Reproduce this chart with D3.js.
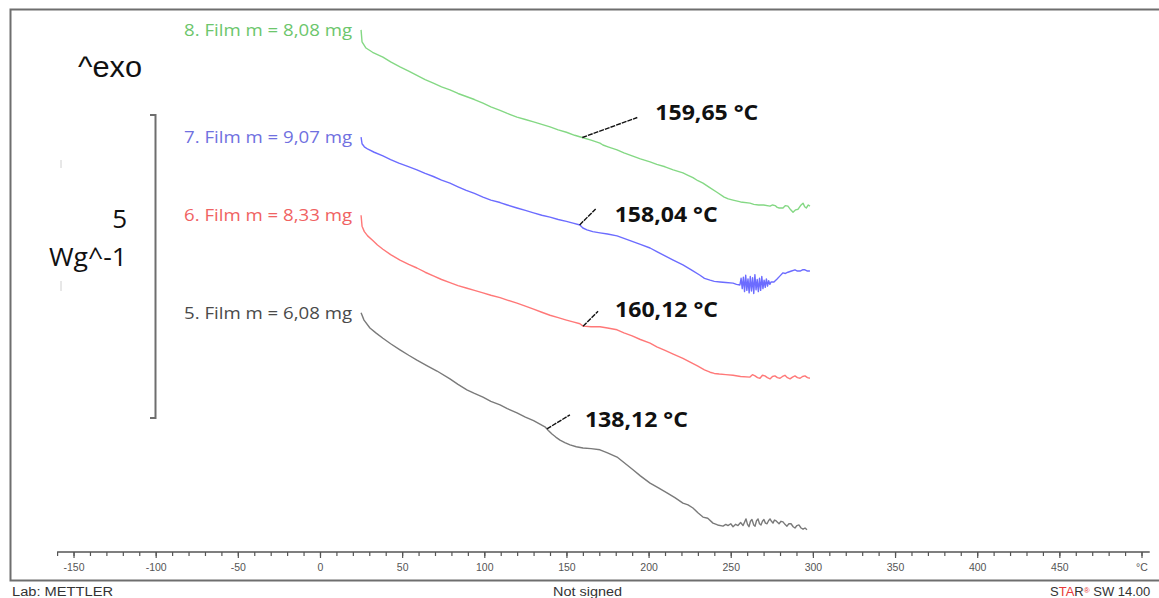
<!DOCTYPE html>
<html>
<head>
<meta charset="utf-8">
<script src="https://cdn.jsdelivr.net/npm/d3@7"></script>
<style>
  html, body { margin: 0; padding: 0; background: #fff; }
  svg { display: block; }
</style>
</head>
<body>
<svg id="chart" width="1159" height="598"></svg>
<script>
// DSC heating curves of four film samples: [temperature °C, heat flow W/g]
const film5 = [[25.0,3.93],[26.8,3.81],[30.4,3.68],[34.0,3.60],[38.3,3.51],[43.0,3.42],[48.7,3.32],[54.0,3.23],
  [59.0,3.15],[65.0,3.06],[71.2,2.97],[79.1,2.84],[84.0,2.75],[89.4,2.66],[94.0,2.60],[99.2,2.54],[104.0,2.47],
  [109.6,2.41],[114.0,2.35],[119.9,2.28],[125.0,2.21],[130.0,2.15],[136.9,2.05],[139.0,1.99],[141.2,1.93],
  [143.5,1.88],[146.1,1.83],[149.0,1.79],[152.2,1.75],[156.0,1.72],[160.1,1.70],[165.0,1.69],[170.4,1.67],
  [175.0,1.62],[180.8,1.55],[185.0,1.46],[190.5,1.34],[195.0,1.24],[200.9,1.12],[206.0,1.04],[211.2,0.96],
  [216.0,0.88],[220.9,0.79],[224.0,0.76],[227.0,0.71],[230.0,0.63],[233.1,0.56],[236.0,0.54],[239.2,0.46],
  [242.0,0.43],[245.3,0.41],
  [247.0,0.44],[248.3,0.42],[250.0,0.45],[251.4,0.40],[253.0,0.44],[254.4,0.42],[256.0,0.47],[257.5,0.42],
  [259.3,0.53],[260.2,0.44],[261.1,0.40],[262.0,0.49],[262.9,0.52],[264.0,0.43],[264.8,0.41],[265.7,0.50],
  [266.6,0.53],[267.5,0.45],[268.4,0.43],[269.3,0.49],[270.2,0.52],[271.1,0.46],[272.1,0.45],[273.0,0.50],
  [273.9,0.53],[274.8,0.49],[275.7,0.46],[276.6,0.51],[277.5,0.50],[279.4,0.45],[280.6,0.49],[281.8,0.48],
  [283.0,0.44],[284.2,0.41],[285.4,0.45],[286.7,0.45],[288.0,0.40],[289.1,0.38],[290.3,0.42],[291.5,0.43],
  [292.8,0.38],[294.0,0.36],[295.2,0.38],[296.4,0.35]];

const film6 = [[25.0,5.54],[25.6,5.36],[27.0,5.27],[29.0,5.20],[32.3,5.12],[35.0,5.05],[38.3,4.98],[43.0,4.89],
  [48.7,4.80],[54.0,4.73],[59.0,4.67],[64.0,4.60],[69.0,4.54],[74.0,4.48],[79.1,4.43],[84.0,4.38],[89.0,4.34],
  [94.0,4.30],[99.2,4.26],[104.0,4.22],[109.6,4.18],[114.0,4.14],[119.9,4.09],[125.0,4.04],[130.0,3.99],
  [135.0,3.94],[140.0,3.89],[145.0,3.85],[150.0,3.81],[154.0,3.78],[158.2,3.75],[160.1,3.71],[165.0,3.70],
  [170.4,3.70],[175.0,3.68],[180.8,3.65],[185.0,3.60],[190.0,3.55],[195.0,3.49],[200.9,3.43],[205.0,3.37],
  [210.0,3.31],[215.0,3.25],[220.9,3.18],[225.0,3.12],[230.0,3.05],[234.0,2.99],[237.4,2.95],[240.0,2.93],
  [243.0,2.92],[247.0,2.91],[251.4,2.90],[256.0,2.88],[261.7,2.87],[263.2,2.91],[264.8,2.89],[266.3,2.86],
  [267.8,2.85],[269.3,2.90],[270.8,2.89],[272.3,2.86],[273.9,2.84],[275.4,2.88],[276.9,2.89],[278.4,2.86],
  [280.0,2.85],[281.5,2.88],[283.0,2.90],[284.5,2.86],[286.1,2.84],[287.6,2.87],[289.1,2.89],[290.6,2.86],
  [292.2,2.85],[293.7,2.88],[295.2,2.89],[296.7,2.86],[298.2,2.85]];

const film7 = [[25.0,6.83],[25.6,6.72],[27.0,6.67],[29.2,6.63],[33.0,6.58],[38.3,6.52],[43.0,6.46],[48.0,6.40],
  [53.0,6.35],[59.0,6.29],[64.0,6.23],[69.0,6.18],[74.0,6.12],[79.1,6.07],[84.0,6.01],[89.0,5.95],[94.0,5.90],
  [99.2,5.84],[104.0,5.79],[109.6,5.75],[114.0,5.71],[119.9,5.66],[125.0,5.62],[130.0,5.58],[135.0,5.54],
  [140.0,5.51],[145.0,5.47],[150.0,5.44],[154.0,5.41],[158.2,5.38],[160.0,5.33],[162.5,5.30],[166.0,5.27],
  [170.4,5.25],[175.0,5.23],[180.8,5.20],[185.0,5.16],[190.0,5.11],[195.0,5.06],[200.9,5.00],[205.0,4.94],
  [210.0,4.87],[215.0,4.80],[220.9,4.72],[226.0,4.64],[231.3,4.55],[234.0,4.50],[237.4,4.47],[240.0,4.45],
  [243.5,4.44],[247.0,4.43],[251.4,4.42],[253.5,4.40],[255.6,4.39],
  [256.3,4.50],[257.0,4.33],[257.7,4.52],[258.4,4.28],[259.1,4.55],[259.8,4.30],[260.5,4.49],[261.2,4.26],
  [261.9,4.53],[262.6,4.29],[263.3,4.51],[264.0,4.25],[264.7,4.56],[265.4,4.31],[266.1,4.48],[266.8,4.28],
  [267.5,4.50],[268.2,4.30],[268.9,4.53],[269.6,4.33],[270.3,4.47],[271.0,4.35],[271.7,4.49],[272.4,4.37],
  [273.1,4.46],[273.8,4.40],[274.5,4.44],[276.3,4.44],[278.2,4.49],[280.0,4.54],[281.8,4.59],[283.3,4.58],
  [284.8,4.60],[287.0,4.62],[289.1,4.64],[290.6,4.62],[292.2,4.62],[293.7,4.64],[295.2,4.64],[296.7,4.62],[298.2,4.62]];

const film8 = [[25.0,8.60],[25.6,8.40],[28.0,8.30],[32.0,8.23],[38.3,8.15],[43.0,8.07],[48.7,7.99],[54.0,7.92],
  [59.0,7.85],[64.0,7.78],[69.0,7.72],[74.0,7.66],[79.1,7.61],[84.0,7.55],[89.0,7.50],[94.0,7.45],[99.2,7.39],
  [104.0,7.33],[109.6,7.27],[114.0,7.22],[119.9,7.16],[125.0,7.12],[130.0,7.08],[135.0,7.04],[140.0,7.00],
  [145.0,6.95],[150.0,6.91],[155.0,6.86],[160.1,6.82],[165.0,6.78],[170.4,6.73],[172.2,6.70],[175.3,6.67],
  [180.8,6.62],[185.0,6.57],[190.0,6.52],[195.0,6.47],[200.9,6.42],[205.0,6.38],[210.0,6.34],[215.0,6.29],
  [220.9,6.24],[224.0,6.20],[227.0,6.16],[230.0,6.11],[233.1,6.07],[237.0,6.00],[241.6,5.92],[246.0,5.84],
  [248.5,5.81],[251.4,5.79],[256.0,5.76],[261.7,5.74],[264.0,5.72],[267.0,5.71],[270.0,5.71],[273.9,5.69],
  [275.5,5.71],[277.0,5.70],[278.3,5.67],[279.5,5.66],[281.8,5.66],[283.3,5.70],[284.8,5.69],[286.5,5.63],
  [287.9,5.59],[289.5,5.63],[291.0,5.64],[292.5,5.70],[294.0,5.74],[295.0,5.68],[296.0,5.66],[297.2,5.71],[298.2,5.69]];

const seriesLabels = ["5. Film m = 6,08 mg", "6. Film m = 8,33 mg", "7. Film m = 9,07 mg", "8. Film m = 8,08 mg"];
const seriesData = [film5, film6, film7, film8];
const lineColors = ["#7a7a7a", "#ff7878", "#6c6cff", "#84d884"];
const labelColors = ["#4a4a4a", "#f06262", "#7070e0", "#6cc66c"];

// Glass transition onsets
const onsetTemps = [138.12, 160.12, 158.04, 159.65];
const onsetLabels = ["138,12 °C", "160,12 °C", "158,04 °C", "159,65 °C"];

// Temperature axis
const majorTicks = [-150, -100, -50, 0, 50, 100, 150, 200, 250, 300, 350, 400, 450, 500];
const majorTickLabels = ["-150", "-100", "-50", "0", "50", "100", "150", "200", "250", "300", "350", "400", "450", "°C"];
const minorTicks = d3.range(-160, 501, 10);

// Scale bar for heat flow
const scaleBarValue = 5;
const scaleBarLabels = ["5", "Wg^-1"];

const svg = d3.select("#chart");

const x = d3.scaleLinear().domain([-160, 500]).range([57.1, 1141.5]);
const y = d3.scaleLinear().domain([0, 9]).range([551, 5.6]);

// outer frame
svg.append("path")
  .attr("d", "M1159,9.5 H10.5 V580.5 H1159")
  .attr("fill", "none").attr("stroke", "#6e6e6e").attr("stroke-width", 2);

// minor ticks
const minorAxis = d3.axisBottom(x).tickValues(minorTicks).tickSize(4).tickFormat("");
const gMinor = svg.append("g").attr("transform", "translate(0,552)").call(minorAxis);
gMinor.select(".domain").remove();
gMinor.selectAll(".tick line").attr("stroke", "#555").attr("stroke-width", 1.2);

// major ticks + labels
const majorAxis = d3.axisBottom(x).tickValues(majorTicks).tickSize(6).tickPadding(6)
  .tickFormat((d, i) => majorTickLabels[i]);
const gMajor = svg.append("g").attr("transform", "translate(0,552)").call(majorAxis);
gMajor.select(".domain").remove();
gMajor.selectAll(".tick line").attr("stroke", "#555").attr("stroke-width", 1.2);
gMajor.selectAll(".tick text")
  .attr("font-family", "Liberation Sans, Arial, sans-serif")
  .attr("font-size", 10.5).attr("fill", "#555");

svg.append("line")
  .attr("x1", x(-160)).attr("x2", x(505)).attr("y1", 552).attr("y2", 552)
  .attr("stroke", "#555").attr("stroke-width", 1.6);

// curves
const line = d3.line().x(d => x(d[0])).y(d => y(d[1]));
seriesData.forEach((data, i) => {
  svg.append("path").datum(data)
    .attr("d", line)
    .attr("fill", "none")
    .attr("stroke", lineColors[i])
    .attr("stroke-width", 1.4)
    .attr("stroke-linejoin", "round");
});

// series labels beside the curve starts
seriesData.forEach((data, i) => {
  svg.append("text")
    .attr("x", 352)
    .attr("y", y(data[0][1]) + 6)
    .attr("text-anchor", "end")
    .attr("font-family", "Open Sans, sans-serif")
    .attr("font-size", 16)
    .attr("textLength", 168)
    .attr("lengthAdjust", "spacingAndGlyphs")
    .attr("fill", labelColors[i])
    .text(seriesLabels[i]);
});

// onset markers
function valueAt(data, t) {
  for (let k = 1; k < data.length; k++) {
    if (data[k][0] >= t) {
      const a = data[k - 1], b = data[k];
      return a[1] + (b[1] - a[1]) * (t - a[0]) / (b[0] - a[0]);
    }
  }
  return data[data.length - 1][1];
}
const leaderOffsets = [[23, -14], [15, -15], [16, -16], [55, -20]];
const labelOffsets = [[38, -2], [32, -9], [35, -3], [73, -17]];
onsetTemps.forEach((t, i) => {
  const px = x(t), py = y(valueAt(seriesData[i], t));
  svg.append("line")
    .attr("x1", px).attr("y1", py)
    .attr("x2", px + leaderOffsets[i][0]).attr("y2", py + leaderOffsets[i][1])
    .attr("stroke", "#111").attr("stroke-width", 1.4)
    .attr("stroke-dasharray", "5,1");
  svg.append("text")
    .attr("x", px + labelOffsets[i][0]).attr("y", py + labelOffsets[i][1])
    .attr("font-family", "Open Sans, sans-serif")
    .attr("font-weight", "bold")
    .attr("font-size", 21)
    .attr("textLength", 103)
    .attr("lengthAdjust", "spacingAndGlyphs")
    .attr("fill", "#111")
    .text(onsetLabels[i]);
});

// exo direction
svg.append("text")
  .attr("x", 78).attr("y", 77)
  .attr("font-family", "Liberation Sans, Arial, sans-serif")
  .attr("font-size", 29).attr("fill", "#111")
  .attr("textLength", 64).attr("lengthAdjust", "spacingAndGlyphs")
  .text("^exo");

// heat flow scale bar
const barTop = 115, barBottom = barTop + (y(0) - y(scaleBarValue));
svg.append("path")
  .attr("d", `M150,${barTop} H155.5 V${barBottom} H150`)
  .attr("fill", "none").attr("stroke", "#6e6e6e").attr("stroke-width", 2);
svg.append("text")
  .attr("x", 127).attr("y", 228)
  .attr("text-anchor", "end")
  .attr("font-family", "Open Sans, sans-serif")
  .attr("font-size", 26).attr("fill", "#111")
  .text(scaleBarLabels[0]);
svg.append("text")
  .attr("x", 127).attr("y", 266)
  .attr("text-anchor", "end")
  .attr("font-family", "Open Sans, sans-serif")
  .attr("font-size", 26).attr("fill", "#111")
  .attr("textLength", 78).attr("lengthAdjust", "spacingAndGlyphs")
  .text(scaleBarLabels[1]);

// faint guide marks on the left
[[160, 168], [281, 291]].forEach(s => {
  svg.append("line").attr("x1", 61).attr("x2", 61).attr("y1", s[0]).attr("y2", s[1])
    .attr("stroke", "#d0d0d0").attr("stroke-width", 1);
});

// footer
const footFont = "Liberation Sans, Arial, sans-serif";
svg.append("text").attr("x", 12).attr("y", 596)
  .attr("font-family", footFont).attr("font-size", 12.5).attr("fill", "#333")
  .attr("textLength", 101).attr("lengthAdjust", "spacingAndGlyphs")
  .text("Lab: METTLER");
svg.append("text").attr("x", 553).attr("y", 596)
  .attr("font-family", footFont).attr("font-size", 12.5).attr("fill", "#333")
  .attr("textLength", 69).attr("lengthAdjust", "spacingAndGlyphs")
  .text("Not signed");
const star = svg.append("text").attr("x", 1050).attr("y", 596)
  .attr("font-family", footFont).attr("font-size", 13).attr("fill", "#333");
star.append("tspan").text("S");
star.append("tspan").attr("fill", "#e83a3a").text("TA");
star.append("tspan").text("R");
star.append("tspan").attr("fill", "#e83a3a").attr("font-size", 8).attr("dy", -3).text("®");
star.append("tspan").attr("dy", 3).text(" SW 14.00");
</script>
</body>
</html>
